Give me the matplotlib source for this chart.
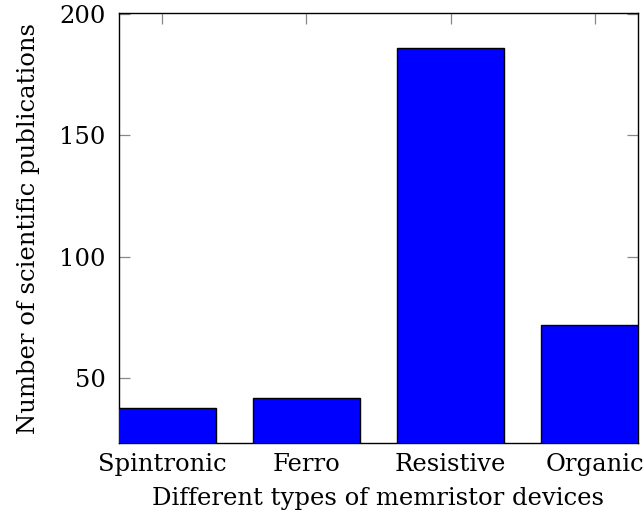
import matplotlib
matplotlib.use("Agg")
import matplotlib.pyplot as plt

categories = ["Spintronic", "Ferro", "Resistive", "Organic"]
publications = [38, 42, 186, 72]
yticks = [50, 100, 150, 200]

plt.rcParams['font.family'] = ['DejaVu Serif']
fs = 17.5

fig = plt.figure(figsize=(6.44, 5.22), dpi=100)
ax = fig.add_axes([119/644, 1 - 443/522, (638-119)/644, (443-13)/522])

x = list(range(len(categories)))
ax.bar(x, publications, width=0.74, color=(0, 0, 1), edgecolor='black',
       linewidth=1.0, zorder=3)

ax.set_xlim(-0.302, 3.302)
ax.set_ylim(23.4, 200.4)
ax.set_xticks(x)
ax.set_xticklabels(categories, fontsize=fs)
ax.set_yticks(yticks)
ax.set_yticklabels([str(v) for v in yticks], fontsize=fs)
ax.tick_params(direction='in', length=8, width=0.9, color='#888888',
               top=True, right=True)
ax.tick_params(axis='y', pad=9.5)
ax.tick_params(axis='x', pad=7)
for s in ax.spines.values():
    s.set_linewidth(1.0)
    s.set_color('black')

ax.set_xlabel("Different types of memristor devices", fontsize=fs, labelpad=8)
ax.set_ylabel("Number of scientific publications", fontsize=fs, labelpad=14)

fig.savefig("out.png", dpi=100)
